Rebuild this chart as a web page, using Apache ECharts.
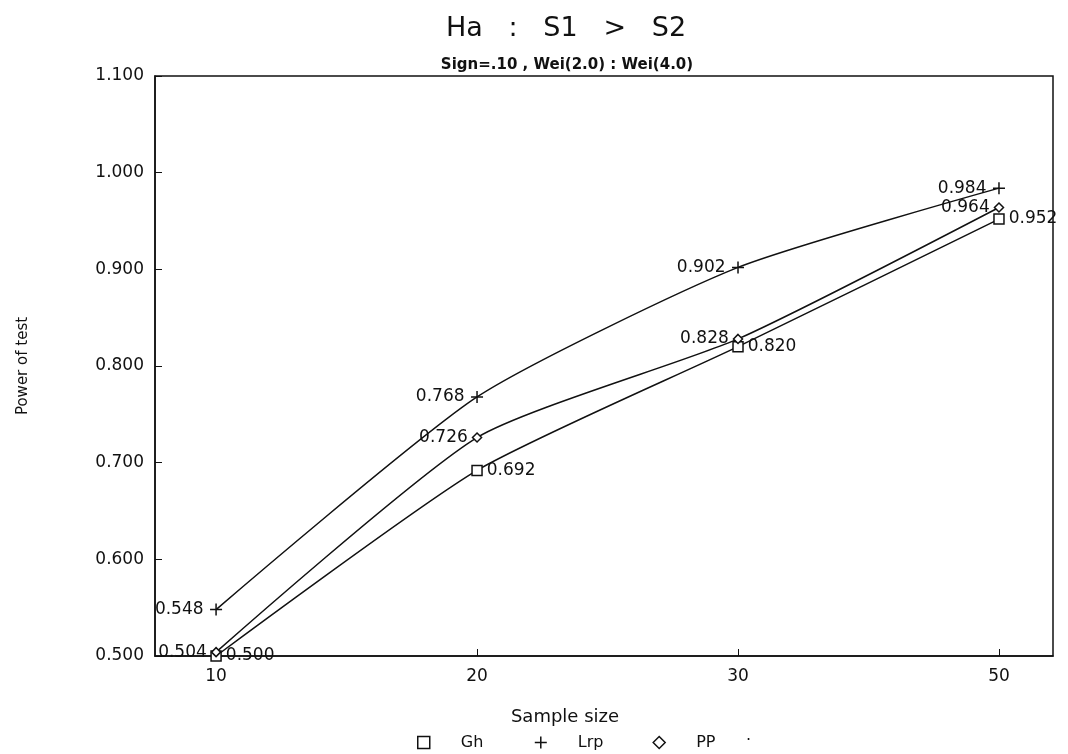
<!DOCTYPE html>
<html>
<head>
<meta charset="utf-8">
<script src="https://cdn.jsdelivr.net/npm/echarts@6/dist/echarts.min.js"></script>
<style>
  html, body { margin: 0; padding: 0; background: #fff; }
  #chart { width: 1068px; height: 754px; }
</style>
</head>
<body>
<div id="chart"></div>
<script>
// sample sizes (placed at equal steps on the x axis, as in the original)
var sampleSizes = ['10', '20', '30', '50'];
var yTicks = ['0.500', '0.600', '0.700', '0.800', '0.900', '1.000', '1.100'];

// power of test per method
var gh  = [0.500, 0.692, 0.820, 0.952];
var lrp = [0.548, 0.768, 0.902, 0.984];
var pp  = [0.504, 0.726, 0.828, 0.964];

function pts(arr) {
    return arr.map(function (v, i) { return [i, v]; });
}

var font = 'DejaVu Sans';
var plusPath = 'path://M0,5L10,5M5,0L5,10';
var xPos = sampleSizes.map(function (s, i) { return i; });

var myChart = echarts.init(document.getElementById('chart'));

var option = {
    backgroundColor: '#fff',
    animation: false,
    title: [{
        text: 'Ha   :   S1   >   S2',
        left: 561, top: 10, textAlign: 'center',
        textStyle: { fontFamily: font, fontSize: 27, fontWeight: 'normal', color: '#111' }
    }, {
        text: 'Sign=.10 , Wei(2.0) : Wei(4.0)',
        left: 562, top: 53, textAlign: 'center',
        textStyle: { fontFamily: font, fontSize: 15, fontWeight: 'bold', color: '#111' }
    }],
    legend: {
        top: 729,
        left: 412,
        itemGap: 49,
        itemWidth: 12,
        itemHeight: 12,
        textStyle: { fontFamily: font, fontSize: 16, color: '#111', padding: [0, 0, 0, 26] },
        data: [
            { name: 'Gh', icon: 'rect', itemStyle: { color: '#fff', borderColor: '#111', borderWidth: 1.5 } },
            { name: 'Lrp', icon: plusPath, itemStyle: { color: 'none', borderColor: '#111', borderWidth: 1.5 } },
            { name: 'PP', icon: 'diamond', itemStyle: { color: '#fff', borderColor: '#111', borderWidth: 1.5 } }
        ]
    },
    graphic: [{
        type: 'text', left: 746, top: 728,
        style: { text: '.', font: '16px DejaVu Sans', fill: '#111' }
    }],
    grid: { left: 155, right: 15, top: 76, bottom: 98, show: true, borderColor: '#111', borderWidth: 1.5 },
    xAxis: {
        type: 'value',
        min: -0.234, max: 3.207,
        name: 'Sample size',
        nameLocation: 'middle',
        nameGap: 52,
        nameTextStyle: { fontFamily: font, fontSize: 18, color: '#111', padding: [0, 78, 0, 0] },
        axisLine: { onZero: false, lineStyle: { color: '#111', width: 1.5 } },
        axisTick: { inside: true, length: 7, lineStyle: { color: '#111' }, customValues: xPos },
        splitLine: { show: false },
        axisLabel: {
            fontFamily: font, fontSize: 17, color: '#111', margin: 12,
            customValues: xPos,
            formatter: function (v) { return sampleSizes[Math.round(v)] || ''; }
        }
    },
    yAxis: {
        type: 'value',
        min: 0.5, max: 1.1, interval: 0.1,
        name: 'Power of test',
        nameLocation: 'middle',
        nameGap: 124,
        nameRotate: 90,
        nameTextStyle: { fontFamily: font, fontSize: 15, color: '#111' },
        axisLine: { show: true, onZero: false, lineStyle: { color: '#111', width: 1.5 } },
        axisTick: { show: true, inside: true, length: 7, lineStyle: { color: '#111' } },
        splitLine: { show: false },
        axisLabel: {
            fontFamily: font, fontSize: 17, color: '#111', margin: 11,
            formatter: function (v) { return yTicks[Math.round((v - 0.5) * 10)]; }
        }
    },
    series: [{
        name: 'Gh', type: 'line', smooth: 0.2,
        data: pts(gh),
        symbol: 'rect', symbolSize: 10,
        lineStyle: { color: '#111', width: 1.5 },
        itemStyle: { color: '#fff', borderColor: '#111', borderWidth: 1.5 },
        label: {
            show: true, position: 'right', distance: 4,
            fontFamily: font, fontSize: 17, color: '#111',
            formatter: function (p) { return p.value[1].toFixed(3); }
        }
    }, {
        name: 'Lrp', type: 'line', smooth: 0.2,
        data: pts(lrp),
        symbol: plusPath, symbolSize: 12,
        lineStyle: { color: '#111', width: 1.5 },
        itemStyle: { color: 'none', borderColor: '#111', borderWidth: 1.5 },
        label: {
            show: true, position: 'left', distance: 4,
            fontFamily: font, fontSize: 17, color: '#111',
            formatter: function (p) { return p.value[1].toFixed(3); }
        }
    }, {
        name: 'PP', type: 'line', smooth: 0.2,
        data: pts(pp),
        symbol: 'diamond', symbolSize: 9,
        lineStyle: { color: '#111', width: 1.5 },
        itemStyle: { color: '#fff', borderColor: '#111', borderWidth: 1.5 },
        label: {
            show: true, position: 'left', distance: 4,
            fontFamily: font, fontSize: 17, color: '#111',
            formatter: function (p) { return p.value[1].toFixed(3); }
        }
    }]
};

myChart.setOption(option);
</script>
</body>
</html>
